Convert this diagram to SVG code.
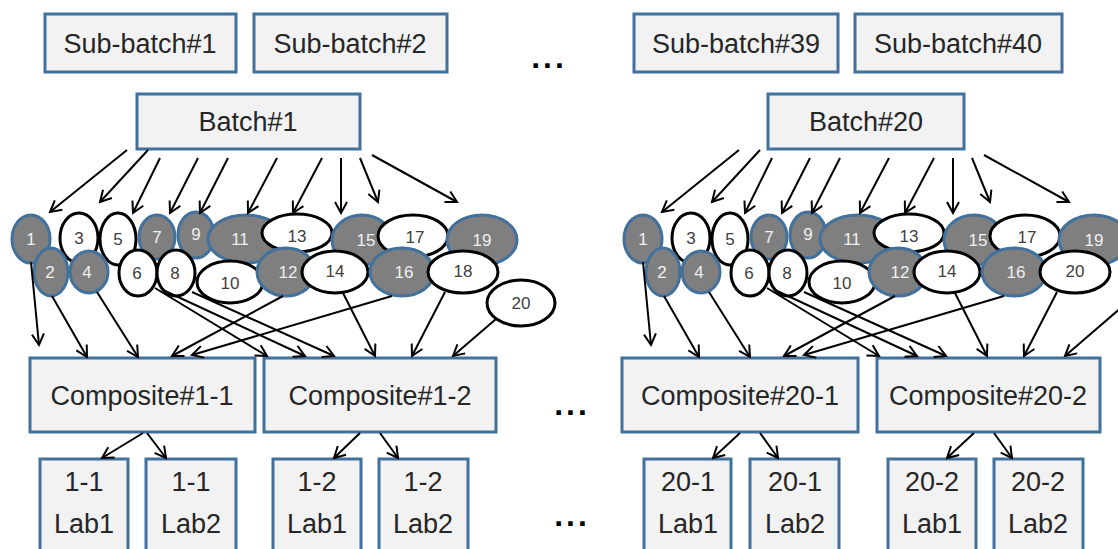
<svg xmlns="http://www.w3.org/2000/svg" width="1118" height="549" viewBox="0 0 1118 549">
  <defs>
    <style>
      .box { fill: #f2f2f2; stroke: #41719c; stroke-width: 3; }
      .g { fill: #7f7f7f; stroke: #41719c; stroke-width: 3; }
      .w { fill: #ffffff; stroke: #000000; stroke-width: 3; }
      .t { font-family: "Liberation Sans", Arial, sans-serif; font-size: 27px; fill: #262626; text-anchor: middle; dominant-baseline: central; }
      .n { font-family: "Liberation Sans", Arial, sans-serif; font-size: 17px; text-anchor: middle; dominant-baseline: central; }
      .nl { fill: #f0f0f0; }
      .nd { fill: #404040; }
      .dots { font-family: "Liberation Sans", Arial, sans-serif; font-size: 32px; font-weight: bold; letter-spacing: 3px; fill: #000; text-anchor: middle; }
      .c { stroke: #000; stroke-width: 2; fill: none; marker-end: url(#ah); }
    </style>
    <marker id="ah" markerWidth="14" markerHeight="14" refX="12" refY="7" orient="auto" markerUnits="userSpaceOnUse">
      <path d="M1,1 L12,7 L1,13" fill="none" stroke="#000" stroke-width="2"/>
    </marker>
  </defs>
  <rect width="1118" height="549" fill="#ffffff"/>

  <!-- sub-batches and batches -->
  <g id="subbatch1"><rect class="box" x="45" y="14" width="191" height="58"/><text class="t" x="140" y="44">Sub-batch#1</text></g>
  <g id="subbatch2"><rect class="box" x="254" y="14" width="193" height="58"/><text class="t" x="350" y="44">Sub-batch#2</text></g>
  <g id="subbatch39"><rect class="box" x="634" y="14" width="204" height="58"/><text class="t" x="736" y="44">Sub-batch#39</text></g>
  <g id="subbatch40"><rect class="box" x="855" y="14" width="207" height="58"/><text class="t" x="958" y="44">Sub-batch#40</text></g>
  <g id="batch1"><rect class="box" x="137" y="94" width="223" height="55"/><text class="t" x="248" y="122">Batch#1</text></g>
  <g id="batch20"><rect class="box" x="768" y="94" width="196" height="55"/><text class="t" x="866" y="122">Batch#20</text></g>

  <text class="dots" x="549" y="68">...</text>
  <text class="dots" x="572" y="415">...</text>
  <text class="dots" x="572" y="526">...</text>

  <!-- samples of batch 1 -->
  <g id="batch1-samples">
    <g id="s1-1"><ellipse class="g" cx="31" cy="239" rx="19" ry="24"/><text class="n nl" x="31" y="239">1</text></g>
    <g id="s1-3"><ellipse class="w" cx="79" cy="238" rx="19" ry="25"/><text class="n nd" x="79" y="238">3</text></g>
    <g id="s1-5"><ellipse class="w" cx="118" cy="239" rx="18" ry="26"/><text class="n nd" x="118" y="239">5</text></g>
    <g id="s1-7"><ellipse class="g" cx="157" cy="237" rx="18" ry="22"/><text class="n nl" x="157" y="237">7</text></g>
    <g id="s1-9"><ellipse class="g" cx="196" cy="235" rx="18" ry="23"/><text class="n nl" x="196" y="234">9</text></g>
    <g id="s1-11"><ellipse class="g" cx="246" cy="239" rx="38" ry="24"/><text class="n nl" x="240" y="239">11</text></g>
    <g id="s1-13"><ellipse class="w" cx="297" cy="233" rx="35" ry="19"/><text class="n nd" x="297" y="236">13</text></g>
    <g id="s1-15"><ellipse class="g" cx="362" cy="240" rx="30" ry="25"/><text class="n nl" x="366" y="240">15</text></g>
    <g id="s1-17"><ellipse class="w" cx="413" cy="236" rx="35" ry="21"/><text class="n nd" x="415" y="237">17</text></g>
    <g id="s1-19"><ellipse class="g" cx="482" cy="240" rx="35" ry="25"/><text class="n nl" x="482" y="240">19</text></g>
    <g id="s1-2"><ellipse class="g" cx="51" cy="272" rx="17" ry="24"/><text class="n nl" x="50" y="272">2</text></g>
    <g id="s1-4"><ellipse class="g" cx="89" cy="272" rx="19" ry="21"/><text class="n nl" x="87" y="272">4</text></g>
    <g id="s1-6"><ellipse class="w" cx="138" cy="273" rx="19" ry="23"/><text class="n nd" x="137" y="273">6</text></g>
    <g id="s1-8"><ellipse class="w" cx="176" cy="273" rx="19" ry="23"/><text class="n nd" x="175" y="273">8</text></g>
    <g id="s1-10"><ellipse class="w" cx="230" cy="282" rx="33" ry="21"/><text class="n nd" x="230" y="283">10</text></g>
    <g id="s1-12"><ellipse class="g" cx="286" cy="272" rx="29" ry="24"/><text class="n nl" x="288" y="272">12</text></g>
    <g id="s1-14"><ellipse class="w" cx="335" cy="272" rx="33" ry="21"/><text class="n nd" x="335" y="271">14</text></g>
    <g id="s1-16"><ellipse class="g" cx="402" cy="272" rx="32" ry="24"/><text class="n nl" x="404" y="272">16</text></g>
    <g id="s1-18"><ellipse class="w" cx="463" cy="272" rx="35" ry="21"/><text class="n nd" x="463" y="271">18</text></g>
    <g id="s1-20"><ellipse class="w" cx="521" cy="303" rx="34" ry="23"/><text class="n nd" x="521" y="303">20</text></g>
  </g>

  <!-- samples of batch 20 -->
  <g id="batch20-samples" transform="translate(612,0)">
    <g id="s20-1"><ellipse class="g" cx="31" cy="239" rx="19" ry="24"/><text class="n nl" x="31" y="239">1</text></g>
    <g id="s20-3"><ellipse class="w" cx="79" cy="238" rx="19" ry="25"/><text class="n nd" x="79" y="238">3</text></g>
    <g id="s20-5"><ellipse class="w" cx="118" cy="239" rx="18" ry="26"/><text class="n nd" x="118" y="239">5</text></g>
    <g id="s20-7"><ellipse class="g" cx="157" cy="237" rx="18" ry="22"/><text class="n nl" x="157" y="237">7</text></g>
    <g id="s20-9"><ellipse class="g" cx="196" cy="235" rx="18" ry="23"/><text class="n nl" x="196" y="234">9</text></g>
    <g id="s20-11"><ellipse class="g" cx="246" cy="239" rx="38" ry="24"/><text class="n nl" x="240" y="239">11</text></g>
    <g id="s20-13"><ellipse class="w" cx="297" cy="233" rx="35" ry="19"/><text class="n nd" x="297" y="236">13</text></g>
    <g id="s20-15"><ellipse class="g" cx="362" cy="240" rx="30" ry="25"/><text class="n nl" x="366" y="240">15</text></g>
    <g id="s20-17"><ellipse class="w" cx="413" cy="236" rx="35" ry="21"/><text class="n nd" x="415" y="237">17</text></g>
    <g id="s20-19"><ellipse class="g" cx="482" cy="240" rx="35" ry="25"/><text class="n nl" x="482" y="240">19</text></g>
    <g id="s20-2"><ellipse class="g" cx="51" cy="272" rx="17" ry="24"/><text class="n nl" x="50" y="272">2</text></g>
    <g id="s20-4"><ellipse class="g" cx="89" cy="272" rx="19" ry="21"/><text class="n nl" x="87" y="272">4</text></g>
    <g id="s20-6"><ellipse class="w" cx="138" cy="273" rx="19" ry="23"/><text class="n nd" x="137" y="273">6</text></g>
    <g id="s20-8"><ellipse class="w" cx="176" cy="273" rx="19" ry="23"/><text class="n nd" x="175" y="273">8</text></g>
    <g id="s20-10"><ellipse class="w" cx="230" cy="282" rx="33" ry="21"/><text class="n nd" x="230" y="283">10</text></g>
    <g id="s20-12"><ellipse class="g" cx="286" cy="272" rx="29" ry="24"/><text class="n nl" x="288" y="272">12</text></g>
    <g id="s20-14"><ellipse class="w" cx="335" cy="272" rx="33" ry="21"/><text class="n nd" x="335" y="271">14</text></g>
    <g id="s20-16"><ellipse class="g" cx="402" cy="272" rx="32" ry="24"/><text class="n nl" x="404" y="272">16</text></g>
    <g id="s20-20"><ellipse class="w" cx="463" cy="272" rx="35" ry="21"/><text class="n nd" x="463" y="271">20</text></g>
  </g>

  <!-- composites -->
  <g id="comp1-1"><rect class="box" x="30" y="358" width="225" height="74"/><text class="t" x="142" y="396">Composite#1-1</text></g>
  <g id="comp1-2"><rect class="box" x="264" y="358" width="232" height="74"/><text class="t" x="380" y="396">Composite#1-2</text></g>
  <g id="comp20-1"><rect class="box" x="622" y="358" width="236" height="74"/><text class="t" x="740" y="396">Composite#20-1</text></g>
  <g id="comp20-2"><rect class="box" x="877" y="358" width="223" height="74"/><text class="t" x="988" y="396">Composite#20-2</text></g>

  <!-- lab aliquots -->
  <g id="lab1-1-1"><rect class="box" x="40" y="459" width="88" height="100"/><text class="t" x="84" y="482">1-1</text><text class="t" x="84" y="524">Lab1</text></g>
  <g id="lab1-1-2"><rect class="box" x="146" y="459" width="90" height="100"/><text class="t" x="191" y="482">1-1</text><text class="t" x="191" y="524">Lab2</text></g>
  <g id="lab1-2-1"><rect class="box" x="273" y="459" width="88" height="100"/><text class="t" x="317" y="482">1-2</text><text class="t" x="317" y="524">Lab1</text></g>
  <g id="lab1-2-2"><rect class="box" x="379" y="459" width="89" height="100"/><text class="t" x="423" y="482">1-2</text><text class="t" x="423" y="524">Lab2</text></g>
  <g id="lab20-1-1"><rect class="box" x="644" y="459" width="87" height="100"/><text class="t" x="688" y="482">20-1</text><text class="t" x="688" y="524">Lab1</text></g>
  <g id="lab20-1-2"><rect class="box" x="750" y="459" width="89" height="100"/><text class="t" x="795" y="482">20-1</text><text class="t" x="795" y="524">Lab2</text></g>
  <g id="lab20-2-1"><rect class="box" x="888" y="459" width="88" height="100"/><text class="t" x="932" y="482">20-2</text><text class="t" x="932" y="524">Lab1</text></g>
  <g id="lab20-2-2"><rect class="box" x="994" y="459" width="89" height="100"/><text class="t" x="1038" y="482">20-2</text><text class="t" x="1038" y="524">Lab2</text></g>

  <!-- connectors -->
  <g id="connectors">
    <g id="batch1-links">
      <line class="c" x1="127" y1="150" x2="50" y2="212"/>
      <line class="c" x1="148" y1="150" x2="100" y2="202"/>
      <line class="c" x1="160" y1="158" x2="133" y2="213"/>
      <line class="c" x1="198" y1="158" x2="170" y2="213"/>
      <line class="c" x1="228" y1="158" x2="200" y2="213"/>
      <line class="c" x1="277" y1="158" x2="248" y2="213"/>
      <line class="c" x1="322" y1="158" x2="293" y2="213"/>
      <line class="c" x1="341" y1="158" x2="341" y2="213"/>
      <line class="c" x1="360" y1="158" x2="378" y2="202"/>
      <line class="c" x1="372" y1="155" x2="457" y2="202"/>
      <line class="c" x1="31" y1="262" x2="39" y2="345"/>
      <line class="c" x1="52" y1="296" x2="87" y2="357"/>
      <line class="c" x1="97" y1="292" x2="138" y2="357"/>
      <line class="c" x1="283" y1="296" x2="172" y2="356"/>
      <line class="c" x1="392" y1="296" x2="192" y2="355"/>
      <line class="c" x1="155" y1="288" x2="267" y2="356"/>
      <line class="c" x1="163" y1="290" x2="305" y2="356"/>
      <line class="c" x1="192" y1="292" x2="334" y2="356"/>
      <line class="c" x1="343" y1="293" x2="375" y2="356"/>
      <line class="c" x1="445" y1="292" x2="412" y2="356"/>
      <line class="c" x1="496" y1="319" x2="453" y2="356"/>
    </g>
    <g id="batch20-links" transform="translate(612,0)">
      <line class="c" x1="127" y1="150" x2="50" y2="212"/>
      <line class="c" x1="148" y1="150" x2="100" y2="202"/>
      <line class="c" x1="160" y1="158" x2="133" y2="213"/>
      <line class="c" x1="198" y1="158" x2="170" y2="213"/>
      <line class="c" x1="228" y1="158" x2="200" y2="213"/>
      <line class="c" x1="277" y1="158" x2="248" y2="213"/>
      <line class="c" x1="322" y1="158" x2="293" y2="213"/>
      <line class="c" x1="341" y1="158" x2="341" y2="213"/>
      <line class="c" x1="360" y1="158" x2="378" y2="202"/>
      <line class="c" x1="372" y1="155" x2="457" y2="202"/>
      <line class="c" x1="31" y1="262" x2="39" y2="345"/>
      <line class="c" x1="52" y1="296" x2="87" y2="357"/>
      <line class="c" x1="97" y1="292" x2="138" y2="357"/>
      <line class="c" x1="283" y1="296" x2="172" y2="356"/>
      <line class="c" x1="392" y1="296" x2="192" y2="355"/>
      <line class="c" x1="155" y1="288" x2="267" y2="356"/>
      <line class="c" x1="163" y1="290" x2="305" y2="356"/>
      <line class="c" x1="192" y1="292" x2="334" y2="356"/>
      <line class="c" x1="343" y1="293" x2="375" y2="356"/>
      <line class="c" x1="445" y1="292" x2="412" y2="356"/>
      <line class="c" x1="518" y1="300" x2="453" y2="356"/>
    </g>
    <g id="lab-links">
      <line class="c" x1="143" y1="433" x2="102" y2="458"/>
      <line class="c" x1="147" y1="433" x2="166" y2="458"/>
      <line class="c" x1="360" y1="433" x2="334" y2="458"/>
      <line class="c" x1="380" y1="433" x2="398" y2="458"/>
      <line class="c" x1="740" y1="433" x2="713" y2="458"/>
      <line class="c" x1="760" y1="433" x2="778" y2="458"/>
      <line class="c" x1="974" y1="433" x2="947" y2="458"/>
      <line class="c" x1="994" y1="433" x2="1012" y2="458"/>
    </g>
  </g>
</svg>
